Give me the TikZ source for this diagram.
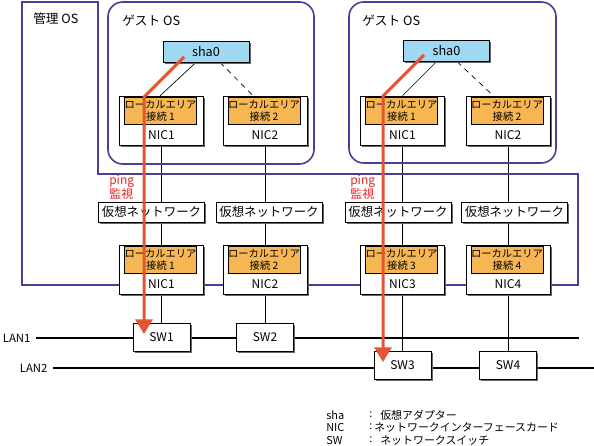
\documentclass[tikz,border=0pt]{standalone}
\usepackage{fontspec}
\setmainfont{Noto Sans CJK JP}
\usetikzlibrary{calc}
\usetikzlibrary{arrows.meta}
\usetikzlibrary{shadows}
\usetikzlibrary{backgrounds}

\definecolor{osframe}{RGB}{75,62,150}
\definecolor{lanorange}{RGB}{246,182,84}
\definecolor{shablue}{RGB}{158,216,242}
\definecolor{pingred}{RGB}{226,84,52}
\definecolor{pingtxt}{RGB}{228,40,40}

\begin{document}
\begin{tikzpicture}[x=0.75pt, y=-0.75pt,
  osframe/.style={draw=osframe, line width=1.2pt},
  oslabel/.style={anchor=west, inner sep=0pt, font=\fontsize{9.5}{11}\selectfont},
  shadowed/.style={drop shadow={shadow xshift=1.4pt, shadow yshift=-1.4pt, fill=black!60, opacity=1}},
  shabox/.style={shadowed, draw, fill=shablue, minimum width=64.5pt, minimum height=15.75pt, inner sep=0pt, font=\fontsize{9.5}{11}\selectfont},
  nicbox/.style={shadowed, draw, fill=white, minimum width=63pt, minimum height=36.75pt, inner sep=0pt},
  lanconn/.style={draw, fill=lanorange, minimum width=51.75pt, minimum height=20pt, inner sep=0pt, align=center, font=\fontsize{7.7}{9}\selectfont},
  niclabel/.style={inner sep=0pt, font=\fontsize{9}{10}\selectfont},
  vnet/.style={shadowed, draw, fill=white, minimum width=79.5pt, minimum height=15pt, inner sep=0pt, font=\fontsize{9.3}{10}\selectfont},
  swbox/.style={shadowed, draw, fill=white, minimum width=42.75pt, minimum height=21pt, inner sep=0pt, font=\fontsize{9}{10}\selectfont},
  wire/.style={draw, line width=0.5pt},
  lanline/.style={draw, line width=2.2pt},
  lanlabel/.style={anchor=east, inner sep=4pt, font=\fontsize{8.5}{10}\selectfont},
  pingarrow/.style={draw=pingred, line width=2.25pt, -{Triangle[width=12.75pt, length=11pt]}},
  pinglabel/.style={anchor=west, inner sep=0pt, align=left, text=pingtxt, font=\fontsize{9}{10.5}\selectfont},
  legend/.style={anchor=west, inner sep=0pt, font=\fontsize{8.2}{9}\selectfont}]

  \useasboundingbox (0,0) rectangle (594,446);

  % management OS and guest OS frames
  \draw[osframe] (22,2) -- (98,2) -- (98,174) -- (578,174) -- (578,285) -- (22,285) -- cycle;
  \draw[osframe, rounded corners=11pt] (108,2) rectangle (314,164);
  \draw[osframe, rounded corners=11pt] (349,2) rectangle (556,163);
  \node[oslabel] (mgmt) at (33,19) {管理 OS};
  \node[oslabel] (guest1) at (122,21) {ゲスト OS};
  \node[oslabel] (guest2) at (362,21) {ゲスト OS};

  % virtual adapters
  \node[shabox] (sha1) at (206,51.5) {sha0};
  \node[shabox] (sha2) at (446.5,51) {sha0};

  % NICs (guest and host)
  \foreach \nm/\xx/\yy/\k/\n in {g1n1/161.5/120.5/1/1, g1n2/265/120.5/2/2,
      g2n1/402.5/120.5/1/1, g2n2/508/120.5/2/2,
      h1/161.5/270/1/1, h2/265/270/2/2, h3/402.5/270/3/3, h4/508/270/4/4} {
    \node[nicbox] (\nm) at (\xx,\yy) {};
    \node[lanconn] (\nm-c) at ($(\nm.center)+(-1,-10)$) {ローカルエリア\\接続 \k};
    \node[niclabel] (\nm-l) at ($(\nm.center)+(0,14.5)$) {NIC\n};
  }

  % virtual networks
  \node[vnet] (vn1) at (151.5,212) {仮想ネットワーク};
  \node[vnet] (vn2) at (269,212) {仮想ネットワーク};
  \node[vnet] (vn3) at (398,212) {仮想ネットワーク};
  \node[vnet] (vn4) at (514.5,212) {仮想ネットワーク};

  % switches
  \node[swbox] (sw1) at (161.5,337) {SW1};
  \node[swbox] (sw2) at (265,337) {SW2};
  \node[swbox] (sw3) at (402.5,365) {SW3};
  \node[swbox] (sw4) at (508,365) {SW4};

  % LANs
  \node[lanlabel] (lan1) at (36,338) {LAN1};
  \node[lanlabel] (lan2) at (53,368) {LAN2};
  \coordinate (lan1end) at (579,338);
  \coordinate (lan2end) at (594,368);

  \begin{scope}[on background layer]
    \draw[wire] ([xshift=-7.5pt]sha1.south) -- ([xshift=-1pt]g1n1.north);
    \draw[wire, dash pattern=on 4pt off 3.5pt] ([xshift=10.5pt]sha1.south) -- ([xshift=-9pt]g1n2.north);
    \draw[wire] ([xshift=-7.5pt]sha2.south) -- ([xshift=0pt]g2n1.north);
    \draw[wire, dash pattern=on 4pt off 3.5pt] ([xshift=8pt]sha2.south) -- ([xshift=-11pt]g2n2.north);
    \draw[wire] (g1n1.south) -- (h1.north);
    \draw[wire] (g1n2.south) -- (h2.north);
    \draw[wire] (g2n1.south) -- (h3.north);
    \draw[wire] (g2n2.south) -- (h4.north);
    \draw[wire] (h1.south) -- (sw1.north);
    \draw[wire] (h2.south) -- (sw2.north);
    \draw[wire] (h3.south) -- (sw3.north);
    \draw[wire] (h4.south) -- (sw4.north);
    \draw[lanline] (lan1.east) -- (lan1end);
    \draw[lanline] (lan2.east) -- (lan2end);
  \end{scope}

  % ping monitoring
  \node[pinglabel] (ping1) at (109,187) {ping\\監視};
  \node[pinglabel] (ping2) at (350,187) {ping\\監視};
  \coordinate (ping1s) at (184,57);
  \coordinate (ping1k) at (144,97);
  \coordinate (ping1e) at (144,334);
  \coordinate (ping2s) at (424,55);
  \coordinate (ping2k) at (383,96);
  \coordinate (ping2e) at (383,362);
  \draw[pingarrow] (ping1s) -- (ping1k) -- (ping1e);
  \draw[pingarrow] (ping2s) -- (ping2k) -- (ping2e);

  % legend
  \node[legend] (keysha) at (326,415) {sha};
  \node[legend] (keynic) at (326,427) {NIC};
  \node[legend] (keysw) at (326,440) {SW};
  \node[legend] (colsha) at (369,415) {:};
  \node[legend] (colnic) at (369,427) {:};
  \node[legend] (colsw) at (369,440) {:};
  \node[legend] (descsha) at (380,415) {仮想アダプター};
  \node[legend] (descnic) at (374,427) {ネットワークインターフェースカード};
  \node[legend] (descsw) at (380,440) {ネットワークスイッチ};
\end{tikzpicture}
\end{document}
